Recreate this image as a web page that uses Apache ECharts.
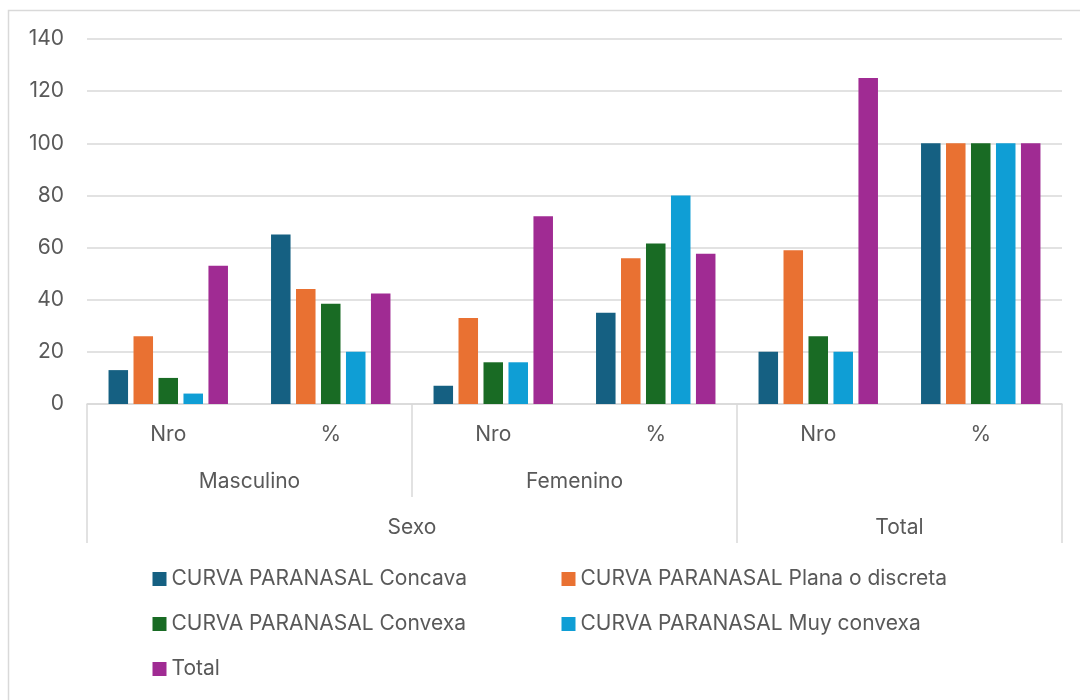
<!DOCTYPE html>
<html>
<head>
<meta charset="utf-8">
<script src="https://cdn.jsdelivr.net/npm/echarts@6/dist/echarts.min.js"></script>
<style>
  html, body { margin: 0; padding: 0; background: #fff; }
  #chart { width: 1080px; height: 700px; }
</style>
</head>
<body>
<div id="chart"></div>
<script>
// categorias (nivel 1, 2 y 3 del eje x)
const subCats = ['Nro', '%', 'Nro', '%', 'Nro', '%']
const sexCats = ['Masculino', 'Femenino']
const topCats = ['Sexo', 'Total']

const seriesNames = [
  'CURVA PARANASAL Concava',
  'CURVA PARANASAL Plana o discreta',
  'CURVA PARANASAL Convexa',
  'CURVA PARANASAL Muy convexa',
  'Total'
]
const concava = [13, 65, 7, 35, 20, 100]
const plana = [26, 44.07, 33, 55.93, 59, 100]
const convexa = [10, 38.46, 16, 61.54, 26, 100]
const muyConvexa = [4, 20, 16, 80, 20, 100]
const total = [53, 42.4, 72, 57.6, 125, 100]

const yTicks = [0, 20, 40, 60, 80, 100, 120, 140]

const colors = ['#156082', '#E97132', '#196B24', '#0F9ED5', '#A02B93']
const font = 'Inter, "Liberation Sans", sans-serif'
const textColor = '#595959'
const lineColor = '#d9d9d9'
const fs = 21

const chart = echarts.init(document.getElementById('chart'))

const allData = [concava, plana, convexa, muyConvexa, total]

const legendBase = {
  orient: 'vertical',
  top: 568,
  padding: 0,
  icon: 'rect',
  itemWidth: 14,
  itemHeight: 14,
  itemGap: 23,
  textStyle: { color: textColor, fontSize: fs, lineHeight: 22, fontFamily: font }
}

const option = {
  animation: false,
  color: colors,
  textStyle: { fontFamily: font },
  graphic: [{
    type: 'rect',
    shape: { x: 8.5, y: 10.5, width: 1100, height: 720 },
    style: { fill: 'none', stroke: lineColor, lineWidth: 1.5 },
    silent: true
  }],
  grid: { left: 87, right: 18, top: 39, bottom: 296 },
  legend: [
    Object.assign({}, legendBase, {
      data: [seriesNames[0], seriesNames[2], seriesNames[4]],
      left: 152.5
    }),
    Object.assign({}, legendBase, {
      data: [seriesNames[1], seriesNames[3]],
      left: 561.5
    })
  ],
  xAxis: [
    {
      type: 'category',
      data: subCats,
      axisLine: { lineStyle: { color: lineColor, width: 1.5 } },
      axisTick: { show: false },
      axisLabel: { color: textColor, fontSize: fs, margin: 20, fontFamily: font }
    },
    {
      type: 'value',
      min: 0,
      max: 6,
      position: 'bottom',
      offset: 93,
      splitLine: { show: false },
      axisLine: { show: false },
      axisTick: { show: true, inside: true, length: 93, customValues: [2], lineStyle: { color: lineColor, width: 1.5 } },
      axisLabel: {
        inside: true,
        margin: 5,
        customValues: [1, 3],
        color: textColor,
        fontSize: fs,
        fontFamily: font,
        formatter: v => sexCats[Math.round((v - 1) / 2)]
      }
    },
    {
      type: 'value',
      min: 0,
      max: 6,
      position: 'bottom',
      offset: 139,
      splitLine: { show: false },
      axisLine: { show: false },
      axisTick: { show: true, inside: true, length: 139, customValues: [0, 4, 6], lineStyle: { color: lineColor, width: 1.5 } },
      axisLabel: {
        inside: true,
        margin: 5,
        customValues: [2, 5],
        color: textColor,
        fontSize: fs,
        fontFamily: font,
        formatter: v => (v === 2 ? topCats[0] : topCats[1])
      }
    }
  ],
  yAxis: {
    type: 'value',
    min: yTicks[0],
    max: yTicks[yTicks.length - 1],
    interval: 20,
    axisLine: { show: false },
    axisTick: { show: false },
    axisLabel: { color: textColor, fontSize: fs, margin: 23, fontFamily: font },
    splitLine: { lineStyle: { color: lineColor, width: 1.5 } }
  },
  series: allData.map((d, i) => ({
    name: seriesNames[i],
    type: 'bar',
    xAxisIndex: 0,
    data: d,
    barGap: '28%',
    barCategoryGap: '26.5%'
  }))
}

chart.setOption(option)
</script>
</body>
</html>
